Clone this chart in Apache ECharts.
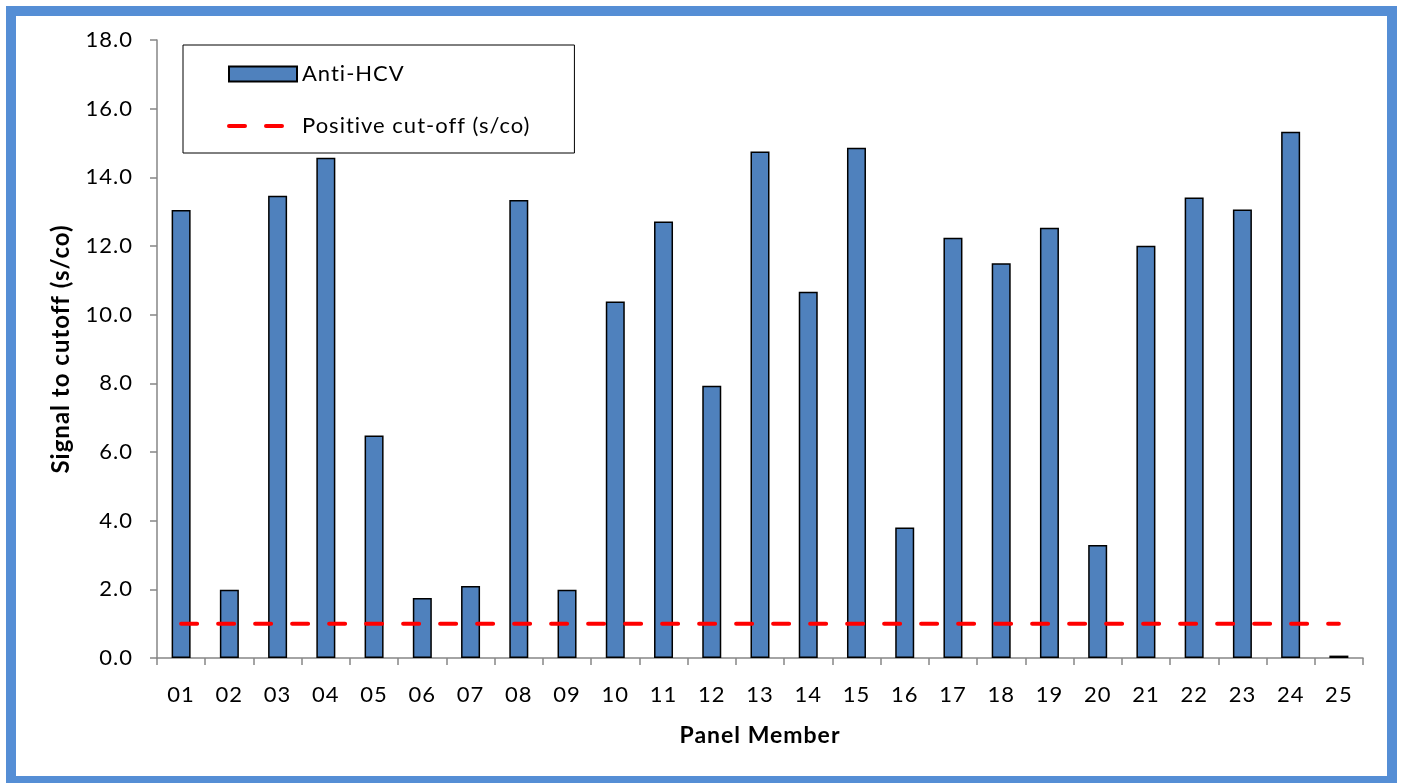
<!DOCTYPE html>
<html>
<head>
<meta charset="utf-8">
<script src="https://cdn.jsdelivr.net/npm/echarts@6/dist/echarts.min.js"></script>
<style>
  html, body { margin: 0; padding: 0; background: #fff; }
  #chart { position: absolute; left: 0; top: 0; width: 1401px; height: 783px; }
  #frame { position: absolute; left: 6px; top: 6px; width: 1391px; height: 780px;
           box-sizing: border-box; border: 10px solid #558ED5; pointer-events: none; }
</style>
</head>
<body>
<div id="chart"></div>
<div id="frame"></div>
<script>
const categories = ['01','02','03','04','05','06','07','08','09','10','11','12','13',
                    '14','15','16','17','18','19','20','21','22','23','24','25'];
const antiHcv = [13.05, 1.99, 13.46, 14.57, 6.48, 1.75, 2.10, 13.34, 1.99, 10.38, 12.71, 7.93, 14.75,
                 10.67, 14.86, 3.80, 12.24, 11.50, 12.53, 3.29, 12.01, 13.41, 13.06, 15.33, 0.07];
const cutoff = [1.0, 1.0, 1.0, 1.0, 1.0, 1.0, 1.0, 1.0, 1.0, 1.0, 1.0, 1.0, 1.0,
                1.0, 1.0, 1.0, 1.0, 1.0, 1.0, 1.0, 1.0, 1.0, 1.0, 1.0, 1.0];
const seriesNames = ['Anti-HCV', 'Positive cut-off (s/co)'];

// Slightly open letter spacing, like the reference's text rendering.
(function () {
  const P = CanvasRenderingContext2D.prototype;
  const setLS = function (ctx) {
    if ('letterSpacing' in ctx) ctx.letterSpacing = '1px';
  };
  ['fillText', 'strokeText', 'measureText'].forEach(function (m) {
    const orig = P[m];
    P[m] = function () { setLS(this); return orig.apply(this, arguments); };
  });
})();

const FONT = 'Lato';
const chart = echarts.init(document.getElementById('chart'), null, { renderer: 'canvas' });
chart.setOption({
  animation: false,
  backgroundColor: '#ffffff',
  textStyle: { fontFamily: FONT, color: '#000' },
  grid: { left: 157, right: 38, top: 40, bottom: 125, containLabel: false },
  legend: {
    orient: 'vertical',
    left: 183, top: 45,
    padding: [17, 44, 15, 44],
    itemGap: 28,
    itemWidth: 68,
    itemHeight: 15,
    itemTextGap: 8,
    borderColor: '#000',
    borderWidth: 1,
    backgroundColor: '#fff',
    data: [
      { name: seriesNames[0], icon: 'rect' },
      { name: seriesNames[1],
        itemStyle: { opacity: 0 },
        lineStyle: { color: '#FF0000', width: 4, type: [16, 21], cap: 'round', opacity: 1 } }
    ],
    textStyle: { fontFamily: FONT, fontSize: 22, color: '#000', lineHeight: 24 }
  },
  xAxis: {
    type: 'category',
    data: categories,
    name: 'Panel Member',
    nameLocation: 'middle',
    nameGap: 66,
    nameTextStyle: { fontFamily: FONT, fontSize: 23, fontWeight: 'bold', color: '#000' },
    axisLine: { show: true, lineStyle: { color: '#868686', width: 1.5 } },
    axisTick: { show: true, length: 7, lineStyle: { color: '#868686', width: 1.5 } },
    axisLabel: { fontFamily: FONT, fontSize: 22, color: '#000', margin: 25, interval: 0 },
    splitLine: { show: false }
  },
  yAxis: {
    type: 'value',
    min: 0, max: 18, interval: 2,
    name: 'Signal to cutoff (s/co)',
    nameLocation: 'middle',
    nameGap: 83,
    nameRotate: 90,
    nameTextStyle: { fontFamily: FONT, fontSize: 24, fontWeight: 'bold', color: '#000' },
    axisLine: { show: true, lineStyle: { color: '#868686', width: 1.5 } },
    axisTick: { show: true, length: 7, lineStyle: { color: '#868686', width: 1.5 } },
    axisLabel: { fontFamily: FONT, fontSize: 22, color: '#000', margin: 24,
                 formatter: v => v.toFixed(1) },
    splitLine: { show: false }
  },
  series: [
    {
      name: seriesNames[0],
      type: 'bar',
      data: antiHcv,
      barWidth: 19,
      itemStyle: { color: '#4F81BD', borderColor: '#000', borderWidth: 1.5 },
      z: 2
    },
    {
      name: seriesNames[1],
      type: 'line',
      data: cutoff,
      symbol: 'none',
      showSymbol: false,
      lineStyle: { color: '#FF0000', width: 4, type: [16, 21], cap: 'round' },
      itemStyle: { color: '#FF0000' },
      z: 3
    }
  ]
});
</script>
</body>
</html>
